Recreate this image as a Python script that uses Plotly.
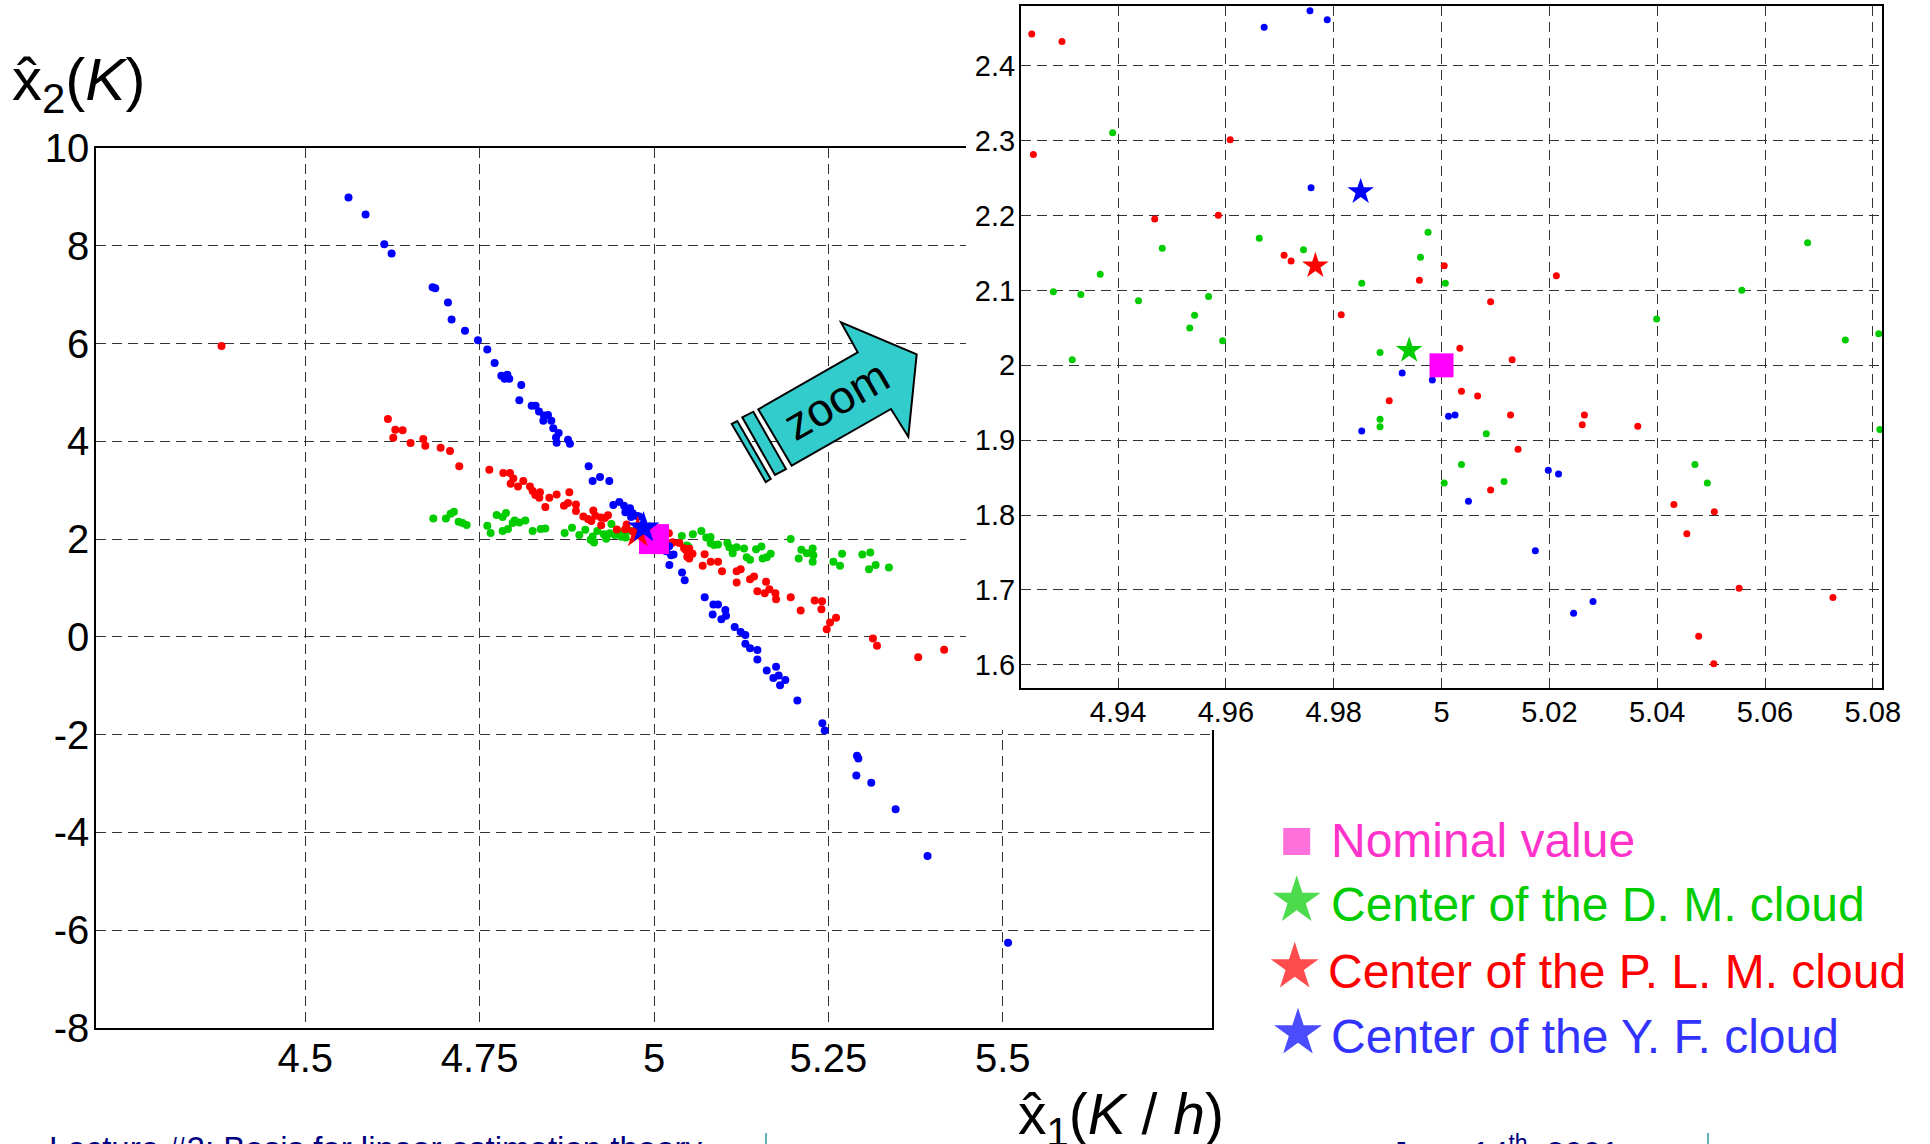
import plotly.graph_objects as go

W, H = 1930, 1144

# ---------------- data ----------------
# D. M. cloud (green)
dm_x1 = [4.6836, 4.7017, 4.7084, 4.7132, 4.7199, 4.7256, 4.7314, 4.7610, 4.7658, 4.7744,
         4.7830, 4.7878, 4.7830, 4.7906, 4.7973, 4.8002, 4.8069, 4.8155, 4.8260, 4.8375,
         4.8442, 4.8719, 4.8824, 4.8929, 4.9015, 4.9120, 4.9140, 4.9092, 4.9187,
         4.9390, 4.9280, 4.9331, 4.9367, 4.9482, 4.9438, 4.9568, 4.9542, 4.9533, 4.9594,
         4.9315, 4.9662, 4.9744, 4.9852, 4.9975, 4.9961, 5.0007, 4.9886, 4.9886, 4.9886,
         5.0083, 5.0037, 5.0005, 5.0116, 5.0470, 5.0493, 5.0399, 5.0557, 5.0679, 5.0749,
         5.0811, 5.0813,
         5.0860, 5.0918, 5.1052, 5.1080, 5.1128, 5.1185, 5.1291, 5.1329, 5.1377, 5.1463,
         5.1540, 5.1558, 5.1616, 5.1673, 5.1960, 5.2113, 5.2075, 5.2190, 5.2275, 5.2285,
         5.2275, 5.2572, 5.2667, 5.2696, 5.2987, 5.3101, 5.3082, 5.3177, 5.3368]
dm_x2 = [2.423, 2.423, 2.519, 2.560, 2.355, 2.328, 2.287, 2.273, 2.123, 2.491,
         2.450, 2.532, 2.164, 2.205, 2.328, 2.382, 2.341, 2.382, 2.164, 2.205,
         2.218, 2.123, 2.232, 2.082, 2.191, 2.055, 1.932, 1.986, 2.164,
         2.3108, 2.0984, 2.0946, 2.1217, 2.1564, 2.0864, 2.0921, 2.0668, 2.0498, 2.0328,
         2.0076, 2.1696, 2.1545, 2.1097, 2.1778, 2.1444, 2.1097, 2.0170, 1.9281, 1.9180,
         1.9086, 1.8676, 1.8430, 1.8449, 1.8676, 1.8430, 2.0618, 2.1003, 2.1639, 2.0340,
         2.0422, 1.9142,
         1.877, 1.890, 1.918, 1.836, 1.713, 1.836, 1.809, 1.631, 1.577, 1.795,
         1.850, 1.604, 1.631, 1.700, 2.000, 1.782, 1.604, 1.713, 1.809, 1.672,
         1.536, 1.536, 1.454, 1.700, 1.686, 1.727, 1.386, 1.468, 1.420]

# P. L. M. cloud (red)
plm_x1 = [4.3800,
          4.6185, 4.6291, 4.6396, 4.6262, 4.6510, 4.6692, 4.6721, 4.6941, 4.7075, 4.7208,
          4.7639, 4.7839, 4.7935, 4.7983, 4.7945, 4.8050, 4.8126, 4.8222, 4.8260, 4.8298,
          4.8356, 4.8365, 4.8499, 4.8442, 4.8604, 4.8709, 4.8786, 4.8767, 4.8881, 4.8881,
          4.8987, 4.9054, 4.9130, 4.9159, 4.9340, 4.9101,
          4.9240, 4.9296, 4.9243, 4.9608, 4.9468, 4.9586, 4.9708, 4.9721, 5.0005, 4.9959,
          5.0213, 5.0091, 4.9814, 5.0034, 5.0131, 4.9903, 5.0037, 5.0067, 5.0128, 5.0265,
          5.0261, 5.0364, 5.0142, 5.0091, 5.0431, 5.0506, 5.0455, 5.0552, 5.0726, 5.0477,
          5.0505,
          5.0698, 5.0813, 5.0918, 5.0975, 5.1185, 5.1243, 5.1185, 5.1377, 5.1434, 5.1482,
          5.1606, 5.1587, 5.1654, 5.1740, 5.1750, 5.1960, 5.2103, 5.2304, 5.2409, 5.2400,
          5.2610, 5.2524, 5.2476, 5.3139, 5.3197, 5.3788, 5.4160]
plm_x2 = [5.95,
          4.457, 4.239, 4.225, 4.075, 3.966, 4.048, 3.911, 3.870, 3.802, 3.488,
          3.420, 3.352, 3.352, 3.242, 3.133, 3.078, 3.188, 3.078, 2.983, 2.901,
          2.846, 2.956, 2.846, 2.655, 2.915, 2.683, 2.956, 2.737, 2.710, 2.573,
          2.464, 2.410, 2.587, 2.478, 2.490, 2.369,
          2.4426, 2.4326, 2.2818, 2.3014, 2.1955, 2.2005, 2.1469, 2.1393, 2.1330, 2.1135,
          2.1198, 2.0851, 2.0675, 2.0227, 2.0076, 1.9527, 1.9653, 1.9590, 1.9338, 1.9338,
          1.9206, 1.9187, 1.8878, 1.8335, 1.8140, 1.8045, 1.7749, 1.7024, 1.6898, 1.6381,
          1.6015,
          1.454, 1.536, 1.536, 1.345, 1.345, 1.386, 1.113, 1.181, 1.235, 0.935,
          1.126, 0.894, 0.976, 0.894, 0.771, 0.812, 0.539, 0.744, 0.730, 0.567,
          0.389, 0.294, 0.157, -0.033, -0.183, -0.415, -0.265]

# Y. F. cloud (blue)
yf_x1 = [4.5620, 4.5865, 4.6133, 4.6238, 4.6826, 4.6864, 4.7046, 4.7098, 4.7290, 4.7476,
         4.7610, 4.7715, 4.7811, 4.7858, 4.7925, 4.7897, 4.8097, 4.8069, 4.8246, 4.8303,
         4.8351, 4.8423, 4.8480, 4.8413, 4.8528, 4.8556, 4.8633, 4.8595, 4.8604, 4.8767,
         4.8795, 4.9063, 4.9120, 4.9226, 4.9359, 4.9417, 4.9503, 4.9570, 4.9656, 4.9694,
         4.9589,
         4.9756, 4.9671, 4.9788, 4.9758, 4.9927, 4.9983, 4.9852, 5.0013, 5.0025, 5.0050,
         5.0198, 5.0217, 5.0174, 5.0245, 5.0281,
         5.0220, 5.0402, 5.0440, 5.0727, 5.0851, 5.0918, 5.1023, 5.0841, 5.0966, 5.1033,
         5.1157, 5.1243, 5.1310, 5.1310, 5.1377, 5.1482, 5.1482, 5.1616, 5.1750, 5.1711,
         5.1788, 5.1807, 5.1883, 5.2055, 5.2414, 5.2448, 5.2910, 5.2930, 5.2901, 5.3115,
         5.3464, 5.3922, 5.5076]
yf_x2 = [8.99, 8.64, 8.03, 7.84, 7.15, 7.13, 6.84, 6.49, 6.26, 6.07,
         5.88, 5.60, 5.34, 5.28, 5.28, 5.36, 5.15, 4.84, 4.73, 4.73,
         4.61, 4.53, 4.54, 4.42, 4.42, 4.27, 4.17, 4.08, 3.97, 4.03,
         3.95, 3.49, 3.19, 3.27, 3.19, 2.70, 2.76, 2.68, 2.63, 2.53,
         2.55,
         2.4735, 2.4515, 2.4615, 2.2371, 1.9899, 1.9805, 1.9124, 1.9319, 1.9338, 1.8184,
         1.8600, 1.8550, 1.7522, 1.6690, 1.6847,
         1.468, 1.317, 1.160, 0.810, 0.660, 0.660, 0.550, 0.460, 0.360, 0.430,
         0.200, 0.100, 0.040, -0.140, -0.230, -0.270, -0.460, -0.690, -0.610, -0.840,
         -0.790, -0.990, -0.880, -1.300, -1.765, -1.915, -2.430, -2.490, -2.836, -2.986,
         -3.525, -4.480, -6.254]

# cloud centers and nominal value
nominal_x1, nominal_x2 = [5.0], [2.0]
dm_center_x1, dm_center_x2 = [4.994], [2.020]
plm_center_x1, plm_center_x2 = [4.9766], [2.133]
yf_center_x1, yf_center_x2 = [4.985], [2.232]

legend_labels = ["Nominal value", "Center of the D. M. cloud",
                 "Center of the P. L. M. cloud", "Center of the Y. F. cloud"]

main_xticks = [4.5, 4.75, 5.0, 5.25, 5.5]
main_xticklabels = ["4.5", "4.75", "5", "5.25", "5.5"]
main_yticks = [-8, -6, -4, -2, 0, 2, 4, 6, 8, 10]
main_yticklabels = ["-8", "-6", "-4", "-2", "0", "2", "4", "6", "8", "10"]
inset_xticks = [4.94, 4.96, 4.98, 5.0, 5.02, 5.04, 5.06, 5.08]
inset_xticklabels = ["4.94", "4.96", "4.98", "5", "5.02", "5.04", "5.06", "5.08"]
inset_yticks = [1.6, 1.7, 1.8, 1.9, 2.0, 2.1, 2.2, 2.3, 2.4]
inset_yticklabels = ["1.6", "1.7", "1.8", "1.9", "2", "2.1", "2.2", "2.3", "2.4"]

# ---------------- styling ----------------
FONT = "Liberation Sans, Arial, sans-serif"
GREEN, RED, BLUE, MAGENTA = "#00CC00", "#FF0000", "#0000FF", "#FF00FF"
GRID = "#333333"


def fx(p):
    return p / W


def fy(p):
    return 1 - p / H


fig = go.Figure()


def add_cloud(xa, ya, dot, star, sq):
    for xs, ys, c in [(dm_x1, dm_x2, GREEN), (plm_x1, plm_x2, RED), (yf_x1, yf_x2, BLUE)]:
        fig.add_trace(go.Scatter(x=xs, y=ys, mode="markers", xaxis=xa, yaxis=ya,
                                 marker=dict(color=c, size=dot, line=dict(width=0)),
                                 showlegend=False, hoverinfo="skip"))
    for xs, ys, c, sym, s in [(dm_center_x1, dm_center_x2, GREEN, "star", star),
                              (nominal_x1, nominal_x2, MAGENTA, "square", sq),
                              (plm_center_x1, plm_center_x2, RED, "star", star),
                              (yf_center_x1, yf_center_x2, BLUE, "star", star)]:
        fig.add_trace(go.Scatter(x=xs, y=ys, mode="markers", xaxis=xa, yaxis=ya,
                                 marker=dict(color=c, size=s, symbol=sym, line=dict(width=0)),
                                 showlegend=False, hoverinfo="skip"))


# main plot
add_cloud("x", "y", 8, 24, 30)
# white cover behind inset (empty subplot whose background hides the main grid)
fig.add_trace(go.Scatter(x=[], y=[], xaxis="x2", yaxis="y2", showlegend=False))
# inset
add_cloud("x3", "y3", 7, 20, 24)

# legend keys (on a pixel-space helper axis)
leg_px_x = [1296.7, 1296.7, 1294.7, 1298.0]
leg_px_y = [841.5, 900.5, 967.0, 1033.0]
leg_colors = ["#FF33CC", GREEN, RED, BLUE]
leg_symbols = ["square", "star", "star", "star"]
leg_sizes = [27, 36, 36, 36]
fig.add_trace(go.Scatter(x=leg_px_x, y=leg_px_y, mode="markers", xaxis="x4", yaxis="y4",
                         marker=dict(color=leg_colors, symbol=leg_symbols, size=leg_sizes,
                                     line=dict(width=0)),
                         cliponaxis=False, showlegend=False, hoverinfo="skip"))

axis_common = dict(showgrid=True, gridcolor=GRID, gridwidth=1.2, griddash="10px,6px",
                   zeroline=False, showline=True, linecolor="black", mirror=True,
                   ticks="", automargin=False, tickmode="array")

fig.update_layout(
    width=W, height=H,
    margin=dict(l=0, r=0, t=0, b=0, pad=0),
    paper_bgcolor="white", plot_bgcolor="white",
    showlegend=False,
    font=dict(family=FONT, color="black"),
    xaxis=dict(domain=[fx(96), fx(1212)], range=[4.2, 5.8], anchor="y",
               tickvals=main_xticks, ticktext=main_xticklabels,
               tickfont=dict(size=40, family=FONT), linewidth=1.5,
               ticklabelstandoff=-6, **axis_common),
    yaxis=dict(domain=[fy(1028), fy(148)], range=[-8, 10], anchor="x",
               tickvals=main_yticks, ticktext=main_yticklabels,
               tickfont=dict(size=40, family=FONT), linewidth=1.5,
               ticklabelstandoff=-3, **axis_common),
    xaxis2=dict(domain=[fx(966), 1.0], range=[0, 1], anchor="y2", visible=False),
    yaxis2=dict(domain=[fy(730), 1.0], range=[0, 1], anchor="x2", visible=False),
    xaxis3=dict(domain=[fx(1021), fx(1882)], range=[4.922, 5.0817], anchor="y3",
                tickvals=inset_xticks, ticktext=inset_xticklabels,
                tickfont=dict(size=29, family=FONT), linewidth=2,
                ticklabelstandoff=-3, **axis_common),
    yaxis3=dict(domain=[fy(688), fy(6)], range=[1.569, 2.48], anchor="x3",
                tickvals=inset_yticks, ticktext=inset_yticklabels,
                tickfont=dict(size=29, family=FONT), linewidth=2,
                ticklabelstandoff=-2, **axis_common),
    xaxis4=dict(domain=[fx(1250), fx(1350)], range=[1250, 1350], anchor="y4", visible=False),
    yaxis4=dict(domain=[fy(1080), fy(800)], range=[1080, 800], anchor="x4", visible=False),
)

# ---------------- zoom arrow ----------------
def path(points):
    s = "M " + " L ".join(f"{fx(x):.5f},{fy(y):.5f}" for x, y in points) + " Z"
    return s


arrow_body = [(791.7, 465.7), (758.3, 409.3), (857.7, 352.3), (841.0, 322.3),
              (916.7, 354.3), (908.3, 436.7), (891.0, 409.0)]
stripe1 = [(742.3, 417.3), (753.3, 411.7), (786.0, 469.0), (775.0, 475.0)]
stripe2 = [(731.7, 424.0), (737.3, 421.0), (770.7, 479.0), (765.7, 482.0)]
for pts in (arrow_body, stripe1, stripe2):
    fig.add_shape(type="path", path=path(pts), xref="paper", yref="paper",
                  fillcolor="#33CCCC", line=dict(color="black", width=2), layer="above")

# footer separators
for xp in (766, 1708):
    fig.add_shape(type="line", xref="paper", yref="paper", x0=fx(xp), x1=fx(xp),
                  y0=fy(1133), y1=fy(1150), line=dict(color="#339999", width=1.5))

# ---------------- texts ----------------
ann = []
ann.append(dict(text="x\u0302<sub>2</sub>(<i>K</i>)", x=fx(10), y=fy(84), xanchor="left",
                yanchor="middle", font=dict(size=60, family=FONT, color="black")))
ann.append(dict(text="x\u0302<sub>1</sub>(<i>K</i> / <i>h</i>)", x=fx(1016), y=fy(1118),
                xanchor="left", yanchor="middle", font=dict(size=57, family=FONT, color="black")))
ann.append(dict(text="zoom", x=fx(836), y=fy(400), xanchor="center", yanchor="middle",
                textangle=-30, font=dict(size=46, family=FONT, color="black")))
leg_text_y = [840, 904, 971, 1036]
leg_text_x = [1329, 1329, 1326, 1329]
for lab, c, ty, tx in zip(legend_labels, leg_colors, leg_text_y, leg_text_x):
    col = "#3333FF" if c == BLUE else c
    ann.append(dict(text=lab, x=fx(tx), y=fy(ty), xanchor="left", yanchor="middle",
                    font=dict(size=48, family=FONT, color=col)))
ann.append(dict(text="Lecture #2: Basis for linear estimation theory", x=fx(47), y=fy(1128),
                xanchor="left", yanchor="top", font=dict(size=33, family=FONT, color="#000080")))
ann.append(dict(text="June 14<sup>th</sup>, 2001", x=fx(1389), y=fy(1128),
                xanchor="left", yanchor="top", font=dict(size=33, family=FONT, color="#000080")))
for a in ann:
    a.update(xref="paper", yref="paper", showarrow=False)
fig.update_layout(annotations=ann)

fig.write_html("out.html")
